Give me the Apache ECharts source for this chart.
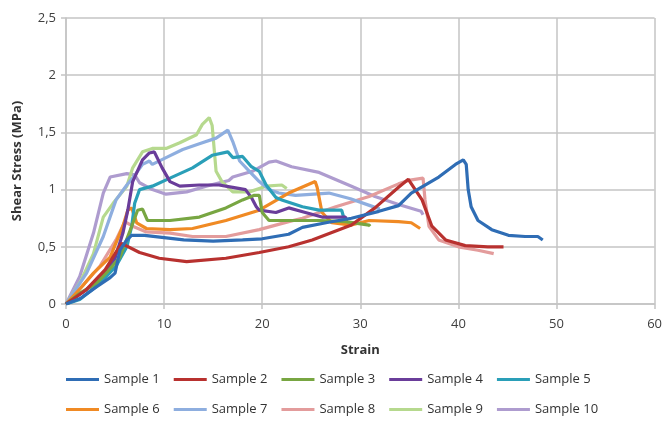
<!DOCTYPE html>
<html>
<head>
<meta charset="utf-8">
<script src="https://cdn.jsdelivr.net/npm/echarts@6/dist/echarts.min.js"></script>
<style>
  html, body { margin: 0; padding: 0; background: #fff; }
  #chart { width: 665px; height: 434px; }
</style>
</head>
<body>
<div id="chart"></div>
<script>
// strain / shear stress points
const sample1 = [[0,0],[1.5,0.05],[3.1,0.15],[4.5,0.23],[5,0.27],[5.5,0.47],[6.2,0.56],[6.7,0.6],[8,0.6],[10,0.58],[12,0.56],[15,0.55],[18,0.56],[20,0.57],[22.7,0.61],[24.1,0.67],[26.5,0.71],[29.1,0.75],[31.9,0.81],[33.9,0.86],[35.2,0.97],[38,1.11],[39.7,1.22],[40.5,1.26],[40.8,1.22],[41,1.0],[41.3,0.85],[42,0.73],[43.4,0.65],[45.1,0.6],[46.8,0.59],[48.1,0.59],[48.6,0.56]];
const sample2 = [[0,0],[2,0.12],[4,0.3],[5.65,0.53],[7.5,0.45],[9.5,0.4],[12.3,0.37],[16.3,0.4],[19.7,0.45],[22.7,0.5],[25.1,0.56],[29.1,0.69],[31.5,0.84],[33.9,1.02],[34.9,1.09],[36.3,0.91],[37.3,0.68],[38.7,0.56],[40.7,0.51],[43,0.5],[44.6,0.5]];
const sample3 = [[0,0],[1.5,0.1],[3.1,0.18],[4.2,0.28],[5.5,0.41],[6.7,0.68],[7.3,0.82],[7.8,0.83],[8.3,0.73],[10.6,0.73],[13.6,0.76],[16.3,0.84],[18,0.91],[19.2,0.95],[19.7,0.95],[20,0.8],[20.7,0.73],[25.8,0.73],[28.5,0.72],[30.9,0.69],[31,0.68]];
const sample4 = [[0,0],[2,0.12],[3.5,0.22],[5,0.4],[5.8,0.62],[6.3,0.82],[6.8,1.07],[7.8,1.26],[8.5,1.32],[9,1.33],[9.8,1.19],[10.6,1.07],[11.6,1.03],[13.6,1.04],[15.6,1.04],[17,1.02],[18.3,1.0],[18.9,0.93],[19.4,0.85],[19.7,0.82],[21.4,0.8],[22.7,0.84],[24.4,0.8],[26.1,0.76],[28.5,0.76],[28.6,0.72]];
const sample5 = [[0,0],[1.4,0.04],[3.45,0.18],[5.1,0.33],[6.2,0.5],[6.7,0.68],[7,0.88],[7.5,1.0],[8.8,1.03],[10.6,1.1],[12.9,1.19],[14.9,1.3],[16.5,1.33],[17,1.28],[18,1.29],[18.9,1.2],[19.7,1.16],[20.4,1.04],[21.4,0.93],[22,0.91],[24.1,0.85],[25.8,0.82],[28.1,0.82],[28.3,0.76]];
const sample6 = [[0,0],[1.5,0.14],[2.8,0.27],[4.5,0.41],[5.8,0.68],[6.3,0.82],[6.7,0.84],[7.2,0.71],[8.2,0.66],[10.6,0.65],[12.9,0.66],[16.3,0.73],[19.7,0.82],[22.7,0.97],[25.4,1.07],[25.6,1.02],[26.1,0.8],[27.1,0.71],[29.1,0.69],[30.9,0.73],[33.9,0.72],[35.2,0.71],[36.1,0.66]];
const sample7 = [[0,0],[2.1,0.27],[3.8,0.59],[5.1,0.91],[6.2,1.04],[6.8,1.1],[7.8,1.22],[8.5,1.25],[8.8,1.22],[10.2,1.28],[11.9,1.35],[13.6,1.4],[15.3,1.45],[16.5,1.52],[17,1.42],[17.7,1.25],[18.7,1.16],[19.7,1.07],[20.7,1.0],[21.7,0.97],[23.4,0.95],[26.8,0.97],[29,0.92],[31,0.86],[32,0.83]];
const sample8 = [[0,0],[1.8,0.17],[3.45,0.33],[5.1,0.56],[6,0.72],[6.8,0.68],[8.2,0.63],[10.6,0.62],[12.9,0.59],[16.3,0.59],[19.7,0.65],[22.7,0.72],[24.1,0.75],[27.5,0.85],[30.9,0.94],[33.9,1.05],[34.9,1.08],[36.4,1.1],[36.6,0.91],[37,0.68],[38,0.56],[40,0.5],[42,0.47],[43.6,0.44]];
const sample9 = [[0,0],[1.5,0.2],[2.8,0.44],[3.8,0.76],[4.8,0.88],[6.2,1.03],[6.8,1.19],[7.8,1.33],[8.8,1.36],[10.2,1.36],[11.6,1.41],[13.3,1.48],[13.9,1.57],[14.6,1.63],[14.9,1.56],[15.3,1.16],[15.9,1.07],[17,0.98],[18.7,0.98],[20.4,1.03],[22,1.04],[22.5,1.01]];
const sample10 = [[0,0],[1.4,0.24],[2.8,0.62],[3.8,0.97],[4.5,1.11],[6.2,1.14],[7,1.13],[7.5,1.06],[8.8,1.0],[10.2,0.96],[12.3,0.98],[14.3,1.03],[16.6,1.08],[17,1.11],[19,1.16],[20.7,1.24],[21.4,1.25],[23,1.2],[25.8,1.15],[29.1,1.03],[31.5,0.94],[33.9,0.87],[36.2,0.81],[36.4,0.78]];

const sampleNames = ["Sample 1","Sample 2","Sample 3","Sample 4","Sample 5","Sample 6","Sample 7","Sample 8","Sample 9","Sample 10"];
const sampleData = [sample1,sample2,sample3,sample4,sample5,sample6,sample7,sample8,sample9,sample10];
const xTicks = [0,10,20,30,40,50,60];
const yTicks = [0,0.5,1,1.5,2,2.5];

const colors = ["#2f6db5","#b8312f","#78a642","#6a3d9a","#2a9fb8","#f08a24","#8eaedf","#e39c9c","#b6d98e","#ae9ccf"];
const gridColor = "#c4c4c4";
const font = "Open Sans";

const myChart = echarts.init(document.getElementById("chart"));

const legendBase = {
  icon: "rect",
  itemWidth: 33,
  itemHeight: 3,
  itemGap: 14,
  padding: 0,
  left: 66,
  textStyle: { color: "#333", fontSize: 13, fontFamily: font },
};

myChart.setOption({
  animation: false,
  color: colors,
  grid: {
    left: 66,
    right: 8,
    top: 18,
    bottom: 130,
  },
  legend: [
    Object.assign({}, legendBase, { top: 373, data: sampleNames.slice(0, 5) }),
    Object.assign({}, legendBase, { top: 403, data: sampleNames.slice(5) }),
  ],
  xAxis: {
    type: "value",
    min: xTicks[0],
    max: xTicks[xTicks.length - 1],
    interval: 10,
    name: "Strain",
    nameLocation: "middle",
    nameGap: 40,
    nameTextStyle: { fontWeight: "bold", fontSize: 13, color: "#333", fontFamily: font },
    axisLine: { lineStyle: { color: gridColor, width: 1.5 } },
    axisTick: { show: true, length: 5, lineStyle: { color: gridColor, width: 1.5 } },
    axisLabel: { color: "#404040", fontSize: 13, fontFamily: font, margin: 14 },
    splitLine: { show: true, lineStyle: { color: gridColor, width: 1.5 } },
  },
  yAxis: {
    type: "value",
    min: yTicks[0],
    max: yTicks[yTicks.length - 1],
    interval: 0.5,
    name: "Shear Stress (MPa)",
    nameLocation: "middle",
    nameGap: 42,
    nameTextStyle: { fontWeight: "bold", fontSize: 13, color: "#333", fontFamily: font },
    axisLine: { show: true, lineStyle: { color: gridColor, width: 1.5 } },
    axisTick: { show: true, length: 5, lineStyle: { color: gridColor, width: 1.5 } },
    axisLabel: {
      color: "#404040",
      fontSize: 13,
      fontFamily: font,
      margin: 10,
      formatter: (v) => String(v).replace(".", ","),
    },
    splitLine: { show: true, lineStyle: { color: gridColor, width: 1.5 } },
  },
  series: sampleNames.map((name, i) => ({
    name: name,
    type: "line",
    data: sampleData[i],
    showSymbol: false,
    symbol: "none",
    lineStyle: { width: 3.2 },
    z: 10 - i,
  })),
});
</script>
</body>
</html>
